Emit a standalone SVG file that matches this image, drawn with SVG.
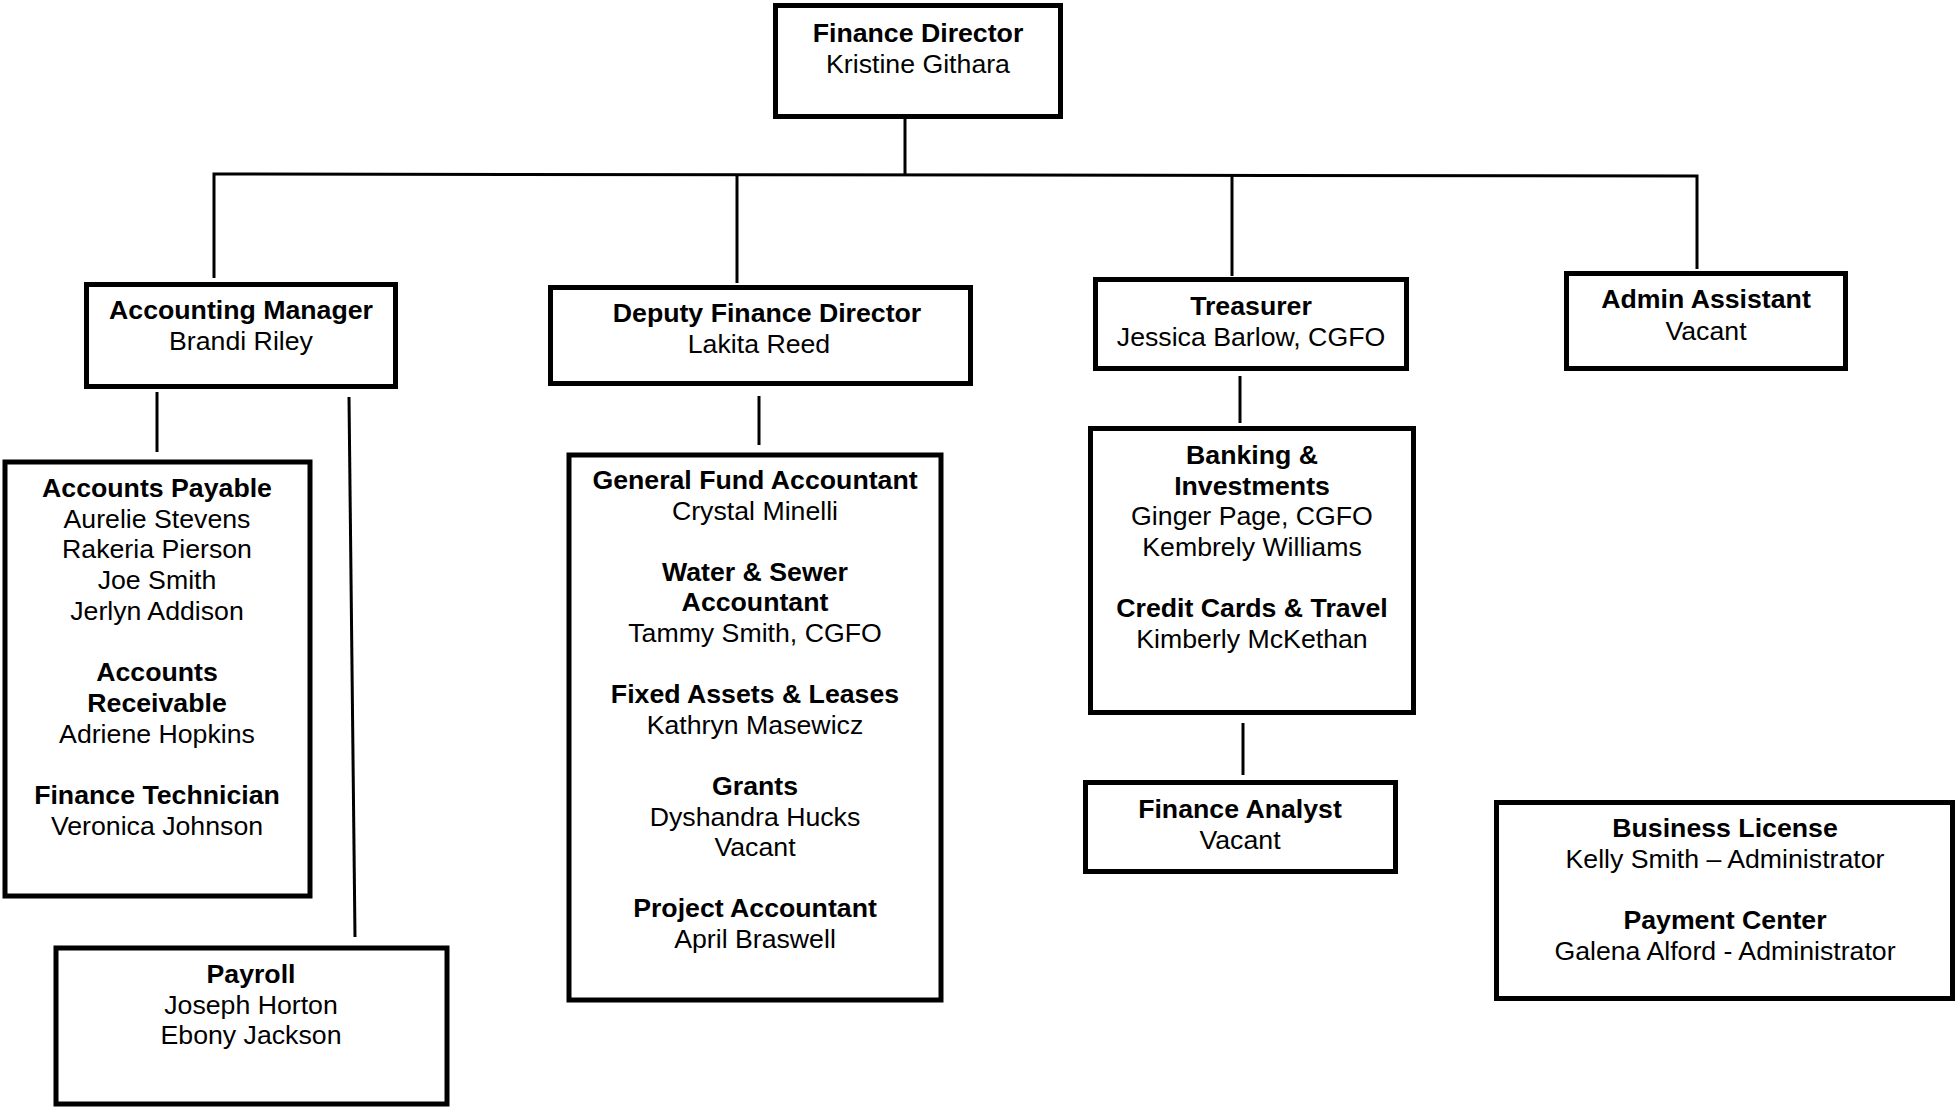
<svg xmlns="http://www.w3.org/2000/svg" width="1957" height="1108" viewBox="0 0 1957 1108">
<style>
  .box { fill: #ffffff; stroke: #000000; stroke-width: 5; }
  .conn { fill: none; stroke: #000000; stroke-width: 3; }
  text { font-family: "Liberation Sans", Arial, sans-serif; font-size: 26.7px; fill: #000000; text-anchor: middle; }
  .b { font-weight: bold; }
</style>
<rect x="0" y="0" width="1957" height="1108" fill="#ffffff"/>

<g id="connectors">
  <line class="conn" x1="905" y1="118" x2="905" y2="175"/>
  <path class="conn" d="M214,278 L214,174 L1697,176 L1697,269"/>
  <line class="conn" x1="737" y1="174" x2="737" y2="283"/>
  <line class="conn" x1="1232" y1="175" x2="1232" y2="276"/>
  <line class="conn" x1="157" y1="392" x2="157" y2="452"/>
  <line class="conn" x1="349" y1="397" x2="355" y2="937"/>
  <line class="conn" x1="759" y1="396" x2="759" y2="445"/>
  <line class="conn" x1="1240" y1="376" x2="1240" y2="423"/>
  <line class="conn" x1="1243" y1="723" x2="1243" y2="775"/>
</g>

<g id="finance-director">
  <rect class="box" x="775.5" y="5.5" width="285" height="111"/>
  <text class="b" x="918" y="42">Finance Director</text>
  <text x="918" y="73">Kristine Githara</text>
</g>

<g id="accounting-manager">
  <rect class="box" x="86.5" y="284.5" width="309" height="102"/>
  <text class="b" x="241" y="319">Accounting Manager</text>
  <text x="241" y="350">Brandi Riley</text>
</g>

<g id="deputy-finance-director">
  <rect class="box" x="550.5" y="287.5" width="420" height="96"/>
  <text class="b" x="767" y="322">Deputy Finance Director</text>
  <text x="759" y="353">Lakita Reed</text>
</g>

<g id="treasurer">
  <rect class="box" x="1095.5" y="279.5" width="311" height="89"/>
  <text class="b" x="1251" y="315">Treasurer</text>
  <text x="1251" y="346">Jessica Barlow, CGFO</text>
</g>

<g id="admin-assistant">
  <rect class="box" x="1566.5" y="273.5" width="279" height="95"/>
  <text class="b" x="1706" y="308">Admin Assistant</text>
  <text x="1706" y="340">Vacant</text>
</g>

<g id="accounts-payable">
  <rect class="box" x="5" y="462" width="305" height="434"/>
  <text class="b" x="157" y="497">Accounts Payable</text>
  <text x="157" y="527.7">Aurelie Stevens</text>
  <text x="157" y="558.4">Rakeria Pierson</text>
  <text x="157" y="589.1">Joe Smith</text>
  <text x="157" y="619.8">Jerlyn Addison</text>
  <text class="b" x="157" y="681.2">Accounts</text>
  <text class="b" x="157" y="711.9">Receivable</text>
  <text x="157" y="742.6">Adriene Hopkins</text>
  <text class="b" x="157" y="804">Finance Technician</text>
  <text x="157" y="834.7">Veronica Johnson</text>
</g>

<g id="payroll">
  <rect class="box" x="56" y="948" width="391" height="156"/>
  <text class="b" x="251" y="983">Payroll</text>
  <text x="251" y="1013.7">Joseph Horton</text>
  <text x="251" y="1044.4">Ebony Jackson</text>
</g>

<g id="general-fund">
  <rect class="box" x="569" y="455" width="372" height="545"/>
  <text class="b" x="755" y="489">General Fund Accountant</text>
  <text x="755" y="519.6">Crystal Minelli</text>
  <text class="b" x="755" y="580.8">Water &amp; Sewer</text>
  <text class="b" x="755" y="611.4">Accountant</text>
  <text x="755" y="642">Tammy Smith, CGFO</text>
  <text class="b" x="755" y="703.2">Fixed Assets &amp; Leases</text>
  <text x="755" y="733.8">Kathryn Masewicz</text>
  <text class="b" x="755" y="795">Grants</text>
  <text x="755" y="825.6">Dyshandra Hucks</text>
  <text x="755" y="856.2">Vacant</text>
  <text class="b" x="755" y="917.4">Project Accountant</text>
  <text x="755" y="948">April Braswell</text>
</g>

<g id="banking">
  <rect class="box" x="1090.5" y="428.5" width="323" height="284"/>
  <text class="b" x="1252" y="464">Banking &amp;</text>
  <text class="b" x="1252" y="494.6">Investments</text>
  <text x="1252" y="525.2">Ginger Page, CGFO</text>
  <text x="1252" y="555.8">Kembrely Williams</text>
  <text class="b" x="1252" y="617">Credit Cards &amp; Travel</text>
  <text x="1252" y="647.6">Kimberly McKethan</text>
</g>

<g id="finance-analyst">
  <rect class="box" x="1085.5" y="782.5" width="310" height="89"/>
  <text class="b" x="1240" y="818">Finance Analyst</text>
  <text x="1240" y="848.6">Vacant</text>
</g>

<g id="business-license">
  <rect class="box" x="1496.5" y="802.5" width="456" height="196"/>
  <text class="b" x="1725" y="837">Business License</text>
  <text x="1725" y="867.7">Kelly Smith – Administrator</text>
  <text class="b" x="1725" y="929">Payment Center</text>
  <text x="1725" y="959.7">Galena Alford - Administrator</text>
</g>
</svg>
